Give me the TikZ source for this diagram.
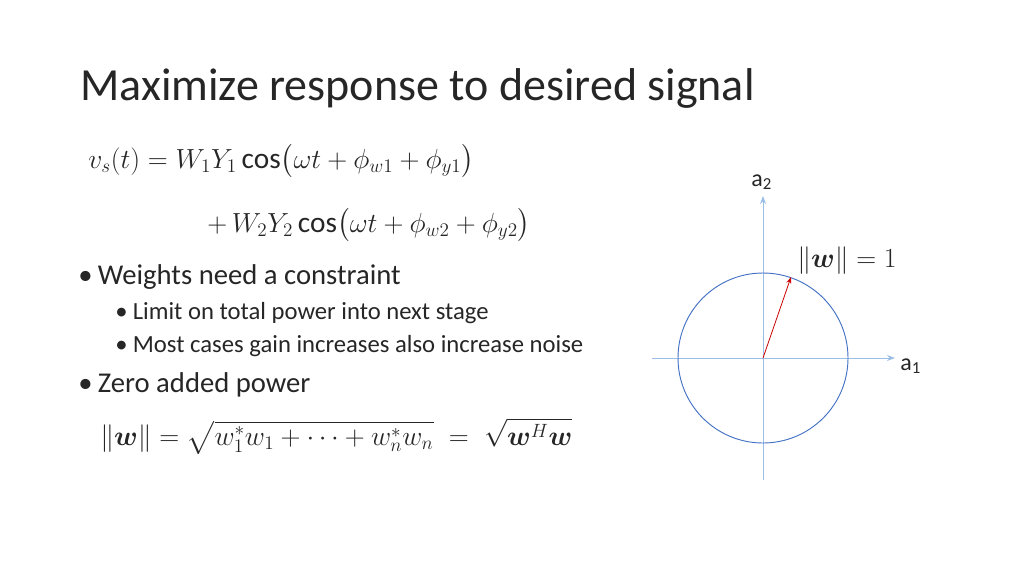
\documentclass[tikz,border=0pt]{standalone}
\usepackage{amsmath,bm}
\usepackage{fontspec}
\setmainfont{Carlito}
\usetikzlibrary{arrows.meta}
\definecolor{circ}{RGB}{68,114,196}
\definecolor{axc}{RGB}{155,190,230}
\begin{document}
\begin{tikzpicture}[x=0.75pt,y=-0.75pt,
  txt/.style={anchor=base west,inner sep=0pt,text=black!85},
  ax/.style={draw=axc,line width=0.7pt,-{Stealth[length=6pt]}}]
\useasboundingbox (0,0) rectangle (1024,576);
\node[txt,font=\fontsize{34.5}{40}\selectfont] (title) at (80,100) {Maximize response to desired signal};
\node[txt,font=\fontsize{22}{26}\selectfont] (eq1) at (88,168) {$v_s(t)=W_1Y_1\cos\!\big(\omega t+\phi_{w1}+\phi_{y1}\big)$};
\node[txt,font=\fontsize{22}{26}\selectfont] (eq2) at (207,232) {$+\,W_2Y_2\cos\!\big(\omega t+\phi_{w2}+\phi_{y2}\big)$};
\node[txt,font=\fontsize{21.5}{25}\selectfont] (b1) at (78,284) {•\hspace{4pt}Weights need a constraint};
\node[txt,font=\fontsize{18.5}{22}\selectfont] (s1) at (115,319) {•\hspace{4pt}Limit on total power into next stage};
\node[txt,font=\fontsize{18.5}{22}\selectfont] (s2) at (115,352) {•\hspace{4pt}Most cases gain increases also increase noise};
\node[txt,font=\fontsize{21.5}{25}\selectfont] (b2) at (78,392) {•\hspace{4pt}Zero added power};
\node[txt,font=\fontsize{21}{25}\selectfont] (eq3) at (100,445) {$\|\bm{w}\|=\sqrt{w_1^*w_1+\cdots+w_n^*w_n}\;=\;\sqrt{\bm{w}^H\bm{w}}$};
\node[txt,font=\fontsize{22}{26}\selectfont] (norm) at (797,267) {$\|\bm{w}\|=1$};
\coordinate (o) at (763,358);
\coordinate (l) at (652,358);
\coordinate (r) at (895,358);
\coordinate (b) at (763,480);
\coordinate (t) at (763,196);
\draw[ax] (l) -- (r);
\draw[ax] (b) -- (t);
\draw[draw=circ,line width=0.7pt] (o) circle[radius=63.75pt];
\coordinate (p) at (791,277);
\draw[red!80!black,line width=0.6pt,-{Stealth[length=5pt]}] (o) -- (p);
\node[txt,font=\fontsize{18}{22}\selectfont] (a2) at (751,186) {a\textsubscript{2}};
\node[txt,font=\fontsize{18}{22}\selectfont] (a1) at (900,370) {a\textsubscript{1}};
\end{tikzpicture}
\end{document}
